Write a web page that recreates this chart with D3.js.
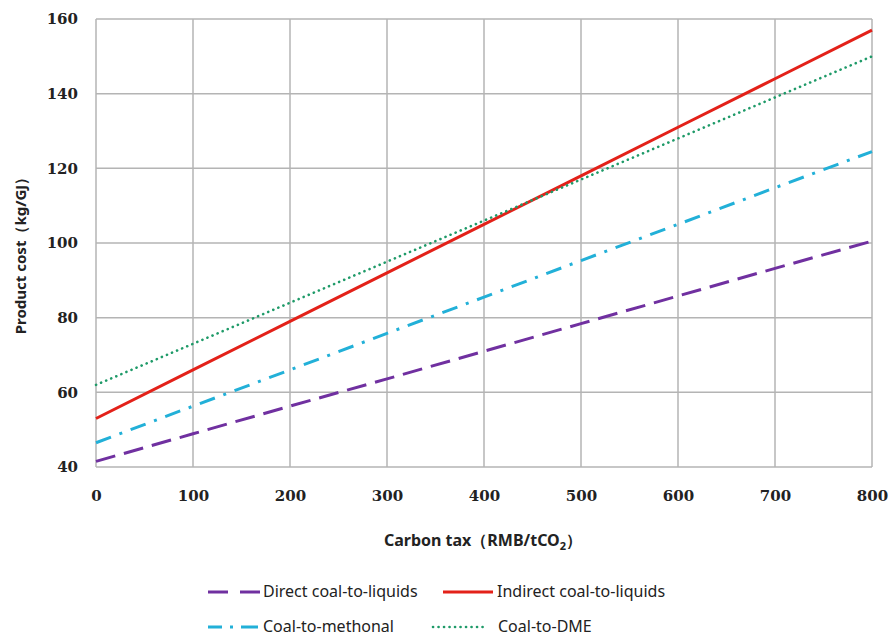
<!DOCTYPE html>
<html>
<head>
<meta charset="utf-8">
<script src="https://cdn.jsdelivr.net/npm/d3@7"></script>
<style>
  body { margin: 0; background: #fff; }
  .tick text { font-family: "DejaVu Serif", serif; font-weight: bold; font-size: 15px; fill: #222; }
</style>
</head>
<body>
<svg id="chart"></svg>
<script>
  var svgWidth = 890, svgHeight = 637;
  var margin = {top: 19, left: 96, right: 18, bottom: 170};
  var graphWidth  = svgWidth - margin.left - margin.right;
  var graphHeight = svgHeight - margin.top - margin.bottom;

  // carbon tax (RMB/tCO2)
  var taxes     = [0, 100, 200, 300, 400, 500, 600, 700, 800];
  // product cost
  var direct    = [41.5, 48.9, 56.3, 63.6, 71.0, 78.4, 85.8, 93.2, 100.5];
  var indirect  = [53, 66, 79, 92, 105, 118, 131, 144, 157];
  var methanol  = [46.5, 56.3, 66, 75.8, 85.5, 95.3, 105, 114.8, 124.5];
  var dme       = [62, 73, 84, 95, 106, 117, 128, 139, 150];
  var xTicks    = [0, 100, 200, 300, 400, 500, 600, 700, 800];
  var yTicks    = [40, 60, 80, 100, 120, 140, 160];
  var names     = ["Direct coal-to-liquids", "Indirect coal-to-liquids", "Coal-to-methonal", "Coal-to-DME"];

  var series = [
    {name: names[0], values: direct,   color: "#7030a0", width: 3,   dash: "20,9",        cap: "butt"},
    {name: names[1], values: indirect, color: "#e32119", width: 3,   dash: null,          cap: "butt"},
    {name: names[2], values: methanol, color: "#22b0d8", width: 3,   dash: "16,9,3,9",    cap: "butt"},
    {name: names[3], values: dme,      color: "#1e9a68", width: 2.6, dash: "0.1,5.4",     cap: "round"}
  ];

  var svg = d3.select("#chart").attr("width", svgWidth).attr("height", svgHeight);
  var g = svg.append("g").attr("transform", "translate(" + margin.left + "," + margin.top + ")");

  var xScale = d3.scaleLinear().domain([0, 800]).range([0, graphWidth]);
  var yScale = d3.scaleLinear().domain([40, 160]).range([graphHeight, 0]);

  // grid
  g.selectAll(".vgrid").data(xTicks).enter().append("line")
    .attr("x1", d => xScale(d)).attr("x2", d => xScale(d))
    .attr("y1", 0).attr("y2", graphHeight)
    .style("stroke", "#b4b4b4").style("stroke-width", 1.5);
  g.selectAll(".hgrid").data(yTicks).enter().append("line")
    .attr("x1", 0).attr("x2", graphWidth)
    .attr("y1", d => yScale(d)).attr("y2", d => yScale(d))
    .style("stroke", "#b4b4b4").style("stroke-width", 1.5);

  // axes (labels only)
  var xAxis = g.append("g").attr("transform", "translate(0," + graphHeight + ")")
    .call(d3.axisBottom(xScale).tickValues(xTicks).tickSize(0).tickPadding(23));
  xAxis.select(".domain").remove();
  var yAxis = g.append("g")
    .call(d3.axisLeft(yScale).tickValues(yTicks).tickSize(0).tickPadding(18));
  yAxis.select(".domain").remove();

  // lines
  var line = d3.line().x((d, i) => xScale(taxes[i])).y(d => yScale(d));
  series.forEach(function(s) {
    g.append("path").datum(s.values).attr("d", line)
      .style("fill", "none").style("stroke", s.color).style("stroke-width", s.width)
      .style("stroke-dasharray", s.dash).style("stroke-linecap", s.cap);
  });

  // axis titles
  var titleFont = "'Noto Sans', sans-serif";
  var xt = svg.append("text").attr("x", 483).attr("y", 546).attr("text-anchor", "middle")
    .style("font-family", titleFont).style("font-weight", "bold").style("font-size", "16px").style("fill", "#222");
  xt.append("tspan").text("Carbon tax（RMB/tCO");
  xt.append("tspan").text("2").style("font-size", "11px").attr("dy", 4);
  xt.append("tspan").text("）").attr("dy", -4);

  svg.append("text").attr("transform", "translate(26,252) rotate(-90)").attr("text-anchor", "middle")
    .style("font-family", titleFont).style("font-weight", "bold").style("font-size", "15px").style("fill", "#222")
    .text("Product cost（kg/GJ）");

  // legend
  var legendPos = [[208, 592], [443, 592], [208, 627], [433, 627]];
  var textX = [263, 497, 263, 498];
  series.forEach(function(s, i) {
    var p = legendPos[i];
    var len = (i == 0 || i == 2) ? 52 : 50;
    var dash = s.dash;
    if (i == 0) dash = "20,12,20";
    if (i == 2) dash = "14,8,3,8,17";
    svg.append("line").attr("x1", p[0]).attr("x2", p[0] + len).attr("y1", p[1]).attr("y2", p[1])
      .style("stroke", s.color).style("stroke-width", s.width)
      .style("stroke-dasharray", dash).style("stroke-linecap", s.cap);
    svg.append("text").attr("x", textX[i]).attr("y", p[1] + 5)
      .style("font-family", titleFont).style("font-size", "16px").style("fill", "#222")
      .text(s.name);
  });
</script>
</body>
</html>
